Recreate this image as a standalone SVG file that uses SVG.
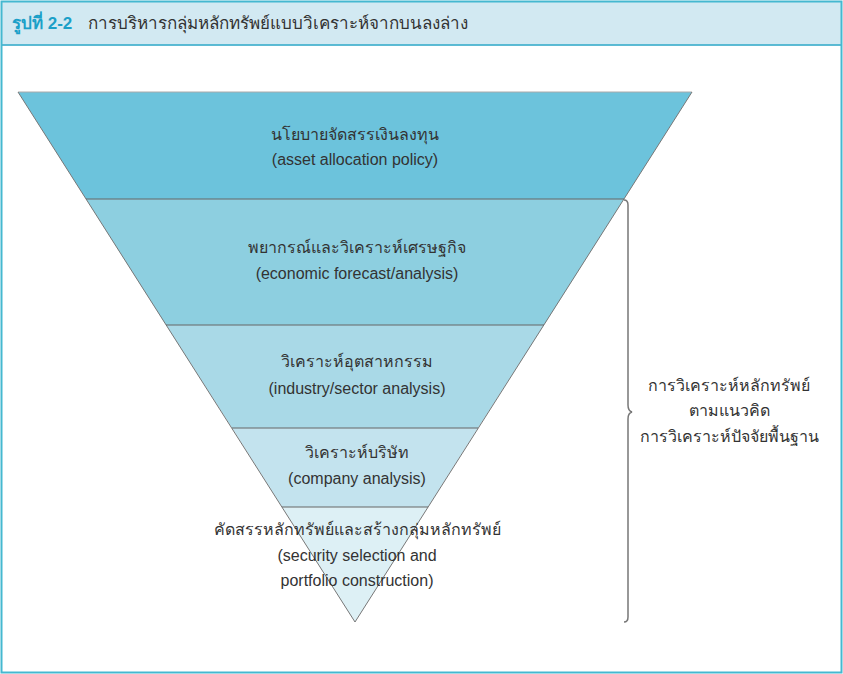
<svg xmlns="http://www.w3.org/2000/svg" width="843" height="674" viewBox="0 0 843 674">
<style>
.t{font-family:"Liberation Sans","Noto Sans",sans-serif;font-size:16px;fill:#333;text-anchor:middle}
.side{stroke:#777;stroke-width:1;fill:none}
.div{stroke:#666;stroke-width:1}
</style>
<rect x="0" y="0" width="843" height="674" fill="#fff"/>
<rect x="1.5" y="1.5" width="840" height="44" fill="#D2E9F2"/>
<line x1="1.5" y1="45" x2="841.5" y2="45" stroke="#2FA9C9" stroke-width="1.5"/>
<rect x="1.5" y="1.5" width="840" height="671" fill="none" stroke="#45B8D0" stroke-width="2"/>
<g id="title">
<text x="12" y="29" font-family="Liberation Sans,'Noto Sans',sans-serif" font-size="17" font-weight="bold" fill="#1BA0C8">รูปที่ 2-2</text>
<text x="88" y="29" font-family="Liberation Sans,'Noto Sans',sans-serif" font-size="17" fill="#333">การบริหารกลุ่มหลักทรัพย์แบบวิเคราะห์จากบนลงล่าง</text>
</g>
<g id="band1">
<polygon points="18,92 692,92 624,199 86,199" fill="#6CC3DC"/>
<text class="t" x="355" y="140">นโยบายจัดสรรเงินลงทุน</text>
<text class="t" x="355" y="165">(asset allocation policy)</text>
</g>
<g id="band2">
<polygon points="86,199 624,199 544,325 166,325" fill="#8DCFE0"/>
<text class="t" x="357" y="253">พยากรณ์และวิเคราะห์เศรษฐกิจ</text>
<text class="t" x="357" y="279">(economic forecast/analysis)</text>
</g>
<g id="band3">
<polygon points="166,325 544,325 478,428 232,428" fill="#A9D9E7"/>
<text class="t" x="357" y="367">วิเคราะห์อุตสาหกรรม</text>
<text class="t" x="357" y="394">(industry/sector analysis)</text>
</g>
<g id="band4">
<polygon points="232,428 478,428 428,507 282,507" fill="#C3E3EE"/>
<text class="t" x="357" y="458">วิเคราะห์บริษัท</text>
<text class="t" x="357" y="484">(company analysis)</text>
</g>
<g id="band5">
<polygon points="282,507 428,507 355,622" fill="#DDF0F5"/>
</g>
<g id="connectors">
<line x1="18" y1="92" x2="692" y2="92" stroke="#aaa" stroke-width="1"/>
<polyline class="side" points="18,92 355,622 692,92"/>
<line class="div" x1="86" y1="199" x2="624" y2="199"/>
<line class="div" x1="166" y1="325" x2="544" y2="325"/>
<line class="div" x1="232" y1="428" x2="478" y2="428"/>
<line class="div" x1="282" y1="507" x2="428" y2="507"/>
<path d="M624,200 Q628,200 628,205 L628,405 Q628,411 632,412 Q628,413 628,419 L628,617 Q628,622 624,622" fill="none" stroke="#777" stroke-width="1.5"/>
</g>
<g id="band5text">
<text class="t" x="357" y="535">คัดสรรหลักทรัพย์และสร้างกลุ่มหลักทรัพย์</text>
<text class="t" x="357" y="561">(security selection and</text>
<text class="t" x="357" y="586">portfolio construction)</text>
</g>
<g id="fundamental">
<text class="t" x="729" y="391">การวิเคราะห์หลักทรัพย์</text>
<text class="t" x="729" y="416">ตามแนวคิด</text>
<text class="t" x="729" y="442">การวิเคราะห์ปัจจัยพื้นฐาน</text>
</g>
</svg>
